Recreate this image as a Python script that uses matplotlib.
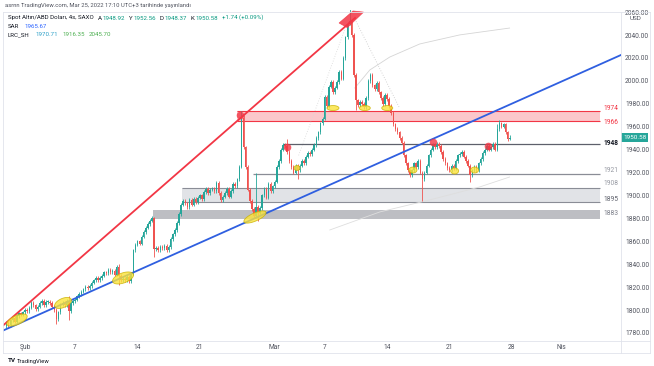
import matplotlib
matplotlib.use("Agg")
import matplotlib.pyplot as plt
from matplotlib.patches import Polygon, Rectangle
import matplotlib.transforms as mtransforms
import numpy as np

plt.rcParams['font.family'] = ['Roboto', 'DejaVu Sans']

W, H = 654, 366

# ---- data: XAU/USD 4h candles (6 bars per trading day) ----
first_open = 1786
jan28_closes = [1789, 1787, 1791]          # last 3 bars of Jan 28
daily_closes = [
    [1793, 1790, 1795, 1797, 1796, 1798],  # Jan 31
    [1800, 1799, 1802, 1806, 1804, 1801],  # Feb 1
    [1803, 1806, 1808, 1804, 1807, 1807],
    [1806, 1803, 1800, 1792, 1798, 1805],
    [1806, 1804, 1808, 1799, 1806, 1808],
    [1809, 1812, 1814, 1816, 1818, 1820],  # Feb 7
    [1819, 1821, 1824, 1826, 1828, 1826],
    [1828, 1830, 1833, 1832, 1835, 1833],
    [1834, 1831, 1838, 1830, 1826, 1827],
    [1826, 1829, 1825, 1832, 1852, 1857],
    [1860, 1858, 1864, 1868, 1872, 1875],  # Feb 14
    [1878, 1880, 1853, 1854, 1852, 1855],
    [1854, 1856, 1852, 1855, 1862, 1866],
    [1870, 1876, 1884, 1892, 1895, 1893],
    [1890, 1896, 1892, 1897, 1894, 1898],
    [1900, 1897, 1903, 1906, 1902, 1905],  # Feb 21
    [1906, 1904, 1911, 1902, 1896, 1899],
    [1902, 1906, 1899, 1904, 1910, 1908],
    [1914, 1925, 1968, 1942, 1925, 1905],
    [1895, 1888, 1882, 1890, 1885, 1889],
    [1900, 1906, 1898, 1910, 1904, 1908],  # Feb 28
    [1912, 1925, 1930, 1940, 1944, 1943],
    [1938, 1930, 1925, 1920, 1926, 1922],
    [1926, 1930, 1928, 1934, 1937, 1936],
    [1940, 1944, 1950, 1955, 1963, 1967],
    [1986, 1978, 1995, 1999, 1990, 1994],  # Mar 7
    [1999, 2008, 2002, 2020, 2038, 2050],
    [2052, 2040, 2005, 1983, 1979, 1982],
    [1980, 1977, 1985, 2000, 2005, 1996],
    [1993, 1998, 1990, 1985, 1980, 1988],
    [1984, 1978, 1972, 1962, 1958, 1955],  # Mar 14
    [1950, 1946, 1935, 1928, 1922, 1918],
    [1922, 1928, 1925, 1930, 1920, 1914],
    [1920, 1926, 1935, 1940, 1944, 1942],
    [1945, 1943, 1938, 1932, 1928, 1924],
    [1922, 1926, 1924, 1930, 1935, 1936],  # Mar 21
    [1938, 1934, 1930, 1926, 1918, 1922],
    [1925, 1922, 1928, 1932, 1937, 1940],
    [1943, 1940, 1942, 1945, 1940, 1958],
    [1963, 1960, 1962, 1955, 1948.92, 1950.58],
]
# bar index -> high / low where the wick is longer than usual
wick_high = {30: 1812, 54: 1840, 70: 1882, 113: 1974, 114: 1970, 120: 1920,
             135: 1949, 165: 2070, 236: 1962, 237: 1966, 242: 1952.56}
wick_low = {24: 1788, 30: 1791, 54: 1822, 71: 1846, 113: 1924, 121: 1878,
            140: 1914, 168: 1975, 200: 1895, 223: 1912, 242: 1948.37}

x_ticks = [1, 5, 10, 15, 21, 25, 30, 35, 40, 44]
x_labels = ["Şub", "7", "14", "21", "Mar", "7", "14", "21", "28", "Nis"]
y_ticks = [1780, 1800, 1820, 1840, 1860, 1880, 1900, 1920, 1940, 1960, 1980, 2000, 2020, 2040, 2060]

# ---- figure ----
fig = plt.figure(figsize=(W / 100, H / 100), dpi=100)
ax = fig.add_axes([3 / W, 1 - 341 / H, 618 / W, 331 / H])
ax.set_xlim(-0.69, 48.83)
ax.set_ylim(1773.0, 2061.85)
for s in ax.spines.values():
    s.set_visible(False)

closes = jan28_closes + [c for day in daily_closes for c in day]
xs = [-1 + (k + 0.5) / 6 for k in (3, 4, 5)] + \
     [d + (k + 0.5) / 6 for d in range(len(daily_closes)) for k in range(6)]
opens = [first_open] + closes[:-1]
opens[-1] = 1948.92
highs, lows = [], []
for i, (o, c) in enumerate(zip(opens, closes)):
    highs.append(wick_high.get(i, max(o, c) + 1.5))
    lows.append(wick_low.get(i, min(o, c) - 1.5))

UP, DN = '#26a69a', '#ef5350'
cols = [UP if c >= o else DN for o, c in zip(opens, closes)]
ax.vlines(xs, lows, highs, colors=cols, lw=0.6, zorder=3)
body = [max(abs(c - o), 0.6) for o, c in zip(opens, closes)]
ax.bar(xs, body, bottom=[min(o, c) for o, c in zip(opens, closes)],
       width=0.12, color=cols, lw=0, zorder=3)

# ---- zones & levels ----
zx0_red, zx0_light, zx0_dark, zx_end = 18.06, 13.65, 11.33, 47.15
ax.add_patch(Rectangle((zx0_red, 1964.6), zx_end - zx0_red, 9.4,
                       fc='#f23645', alpha=0.28, lw=0, zorder=1))
ax.hlines([1964.6, 1974], zx0_red, zx_end, colors='#f23645', lw=0.8, zorder=2)
ax.add_patch(Rectangle((zx0_light, 1894.3), zx_end - zx0_light, 12.2,
                       fc='#c9ccd4', alpha=0.55, lw=0, zorder=1))
ax.hlines([1894.3, 1906.5], zx0_light, zx_end, colors='#8a8d96', lw=0.8, zorder=2)
ax.add_patch(Rectangle((zx0_dark, 1879.5), zx_end - zx0_dark, 8.0,
                       fc='#9a9ca3', alpha=0.65, lw=0, zorder=1))
ax.hlines(1944.5, 21.76, zx_end, colors='#5d606b', lw=0.9, zorder=2)
ax.hlines(1918.7, 19.35, zx_end, colors='#8a8d96', lw=0.9, zorder=2)

lab_x = 47.39
for txt, yv, col, wt in [("1974", 1976.1, '#f23645', 'normal'),
                         ("1966", 1963.9, '#f23645', 'normal'),
                         ("1948", 1945.5, '#131722', 'bold'),
                         ("1921", 1921.4, '#9598a1', 'normal'),
                         ("1908", 1910.6, '#9598a1', 'normal'),
                         ("1895", 1896.9, '#5d606b', 'normal'),
                         ("1883", 1884.5, '#787b86', 'normal')]:
    ax.text(lab_x, yv, txt, color=col, fontsize=4.8, fontweight=wt,
            va='center', ha='left', clip_on=False)

# ---- faint indicator curves ----
ax.plot([27.5, 28.7, 30.3, 32.7, 35.9, 39.9],
        [1993.8, 2009.5, 2020.8, 2032.2, 2040.1, 2046.1],
        color='#d5d5d5', lw=0.6, zorder=2)
ax.plot([25.5, 29.5, 33.5, 37.5, 39.9],
        [1869.9, 1885.6, 1896.1, 1907.4, 1916.1],
        color='#dedede', lw=0.6, zorder=2)
ax.plot([27.6, 31.1], [2052, 1976], color='#c8c8c8', lw=0.6, ls=(0, (1, 2)), zorder=2)
ax.plot([23.0, 26.7], [1935, 2045], color='#d8d8d8', lw=0.6, ls=(0, (1, 2)), zorder=2)

# ---- trend lines ----
ax.plot([-0.69, 27.52], [1786.5, 2054.9], color='#f23645', lw=1.3, zorder=4)
ax.plot([-0.69, 48.83], [1782.1, 2022.6], color='#2f5fe0', lw=1.3, zorder=4)
ax.add_patch(Polygon([(26.24, 2050.5), (27.36, 2061.0), (28.2, 2060.0), (26.9, 2046.5)],
                     closed=True, fc='#f23645', ec='#f23645', alpha=0.85, lw=0.5, zorder=5))

# ---- markers ----
ppx = 618 / (48.83 + 0.69)
ppy = 331 / (2061.85 - 1773.0)


def ellipse(cx, cy, w, h, ang):
    t = np.linspace(0, 2 * np.pi, 60)
    a = np.deg2rad(ang)
    ex, ey = w / 2 * np.cos(t), h / 2 * np.sin(t)
    rx = ex * np.cos(a) - ey * np.sin(a)
    ry = ex * np.sin(a) + ey * np.cos(a)
    return np.column_stack([cx + rx / ppx, cy + ry / ppy])


for cx, cy, w, h, ang in [(0.43, 1791.3, 22, 9, 24), (4.12, 1806.2, 18, 9, 24),
                          (8.93, 1828.0, 22, 10, 20), (19.5, 1881.2, 24, 8, 24),
                          (25.75, 1976.3, 12, 5, 0), (28.3, 1976.3, 11, 5, 0),
                          (30.1, 1976.3, 11, 5, 0), (22.87, 1924.0, 6, 5, 0),
                          (32.16, 1922.2, 8, 6, 0), (35.5, 1921.4, 8, 6, 0),
                          (37.1, 1922.2, 8, 6, 0)]:
    ax.add_patch(Polygon(ellipse(cx, cy, w, h, ang), closed=True, fc='#fbe33a',
                         ec='#c9b100', alpha=0.8, lw=0.6, zorder=5))

ax.scatter([18.3, 22.07, 33.77, 38.17], [1970.2, 1942.3, 1946.7, 1943.2],
           s=30, color='#f23645', alpha=0.8, lw=0, zorder=6)

# ---- axes ticks ----
ax.set_xticks([t + 1 / 12 for t in x_ticks])
ax.set_xticklabels(x_labels)
ax.yaxis.tick_right()
ax.set_yticks(y_ticks)
ax.set_yticklabels([f"{v:.2f}" for v in y_ticks])
ax.tick_params(axis='x', length=0, pad=2.3, labelsize=4.8, labelcolor='#50535e')
ax.tick_params(axis='y', length=0, pad=3.0, labelsize=4.8, labelcolor='#50535e')
fig.text(636 / W, 1 - 18.5 / H, "USD", fontsize=4.6, color='#50535e', ha='center', va='center')

# last price tag
tr = mtransforms.blended_transform_factory(ax.transAxes, ax.transData)
ax.text(1.0 + 2 / 618, 1950.58, "1950.58", transform=tr, fontsize=4.6, color='white',
        va='center', ha='left', clip_on=False,
        bbox=dict(boxstyle='square,pad=0.25', fc='#26a69a', ec='none'))

# ---- frame ----
frame = '#e0e3eb'
fig.add_artist(plt.Line2D([3 / W, 650 / W], [1 - 12 / H] * 2, color=frame, lw=0.6))
fig.add_artist(plt.Line2D([3 / W, 650 / W], [1 - 341 / H] * 2, color=frame, lw=0.6))
fig.add_artist(plt.Line2D([3 / W, 650 / W], [1 - 353 / H] * 2, color=frame, lw=0.6))
fig.add_artist(plt.Line2D([621 / W] * 2, [1 - 12 / H, 1 - 353 / H], color=frame, lw=0.6))
fig.add_artist(plt.Line2D([3 / W] * 2, [1 - 12 / H, 1 - 353 / H], color=frame, lw=0.6))
fig.add_artist(plt.Line2D([650 / W] * 2, [1 - 12 / H, 1 - 353 / H], color=frame, lw=0.6))

# ---- header texts ----
fig.text(5 / W, 1 - 5 / H, "asrnn TradingView.com, Mar 25, 2022 17:10 UTC+3 tarihinde yayınlandı",
         fontsize=4.2, color='#50535e', va='center', ha='left')


def chain(x_px, y_px, parts, size=4.4):
    prev = fig.text(x_px / W, 1 - y_px / H, parts[0][0], color=parts[0][1],
                    fontsize=size, va='bottom', ha='left')
    for s, col, gap in parts[1:]:
        prev = ax.annotate(s, xy=(1, 0), xycoords=prev, xytext=(gap, 0),
                           textcoords='offset points', color=col, fontsize=size,
                           va='bottom', ha='left', annotation_clip=False)


DK, GR = '#131722', '#089981'
chain(8, 20.5, [("Spot Altın/ABD Doları, 4s, SAXO", DK, 0), ("A", DK, 3), ("1948.92", GR, 0.3),
                ("Y", DK, 3), ("1952.56", GR, 0.3), ("D", DK, 3), ("1948.37", GR, 0.3),
                ("K", DK, 3), ("1950.58", GR, 0.3), ("+1.74 (+0.09%)", GR, 3)])
chain(8, 29, [("SAR", DK, 0), ("1965.67", '#2962ff', 4)])
chain(8, 37.5, [("LRC_SH", DK, 0), ("1970.71", '#2a9fc7', 4), ("1916.35", '#4caf50', 3),
                ("2045.70", '#4caf50', 3)])

# logo
fig.text(8 / W, 1 - 361 / H, "TV", fontsize=4.6, fontweight='bold', color='#131722', va='center')
fig.text(17 / W, 1 - 361 / H, "TradingView", fontsize=4.2, color='#131722', va='center')

fig.savefig("out.png", dpi=100, facecolor='white')
